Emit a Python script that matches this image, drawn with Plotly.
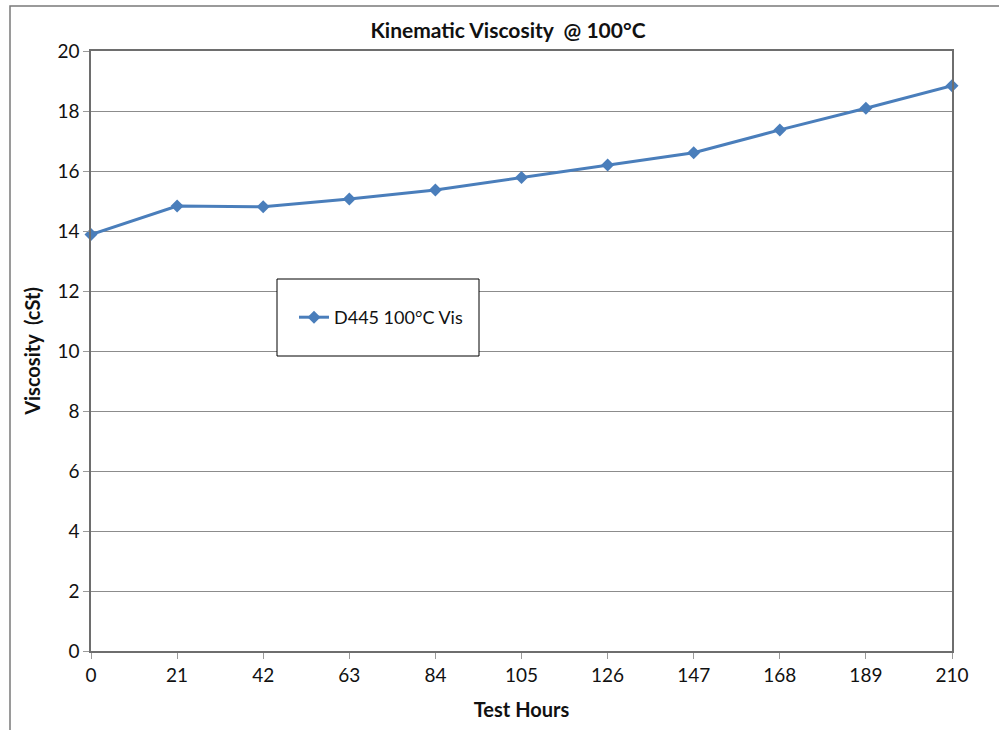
import plotly.graph_objects as go

# Test hours and measured kinematic viscosity at 100 °C
hours = [0, 21, 42, 63, 84, 105, 126, 147, 168, 189, 210]
viscosity = [13.88, 14.83, 14.81, 15.07, 15.37, 15.78, 16.2, 16.61, 17.37, 18.09, 18.84]
series_name = "D445 100°C Vis"

W, H = 999, 730
L, R, T, B = 91, 47, 51, 79
pw, ph = W - L - R, H - T - B


def px(x):
    return (x - L) / pw


def py(y):
    return (H - B - y) / ph


FONT = "Lato, Open Sans, sans-serif"
BLUE = "#4a7ebb"

fig = go.Figure()
fig.add_trace(go.Scatter(
    x=hours, y=viscosity, name=series_name, mode="lines+markers",
    line=dict(color=BLUE, width=3),
    marker=dict(symbol="diamond", size=10, color=BLUE),
    cliponaxis=False,
    showlegend=True,
))

axis_common = dict(
    showline=True, mirror=True, linecolor="#6e6e6e", linewidth=1.5,
    ticks="outside", ticklen=6, tickcolor="#9a9a9a", tickwidth=1,
    tickfont=dict(family=FONT, size=19, color="#111"),
    zeroline=False,
)

fig.update_xaxes(
    range=[0, 210], tickmode="array", tickvals=hours, ticktext=[str(h) for h in hours],
    showgrid=False,
    title=dict(text="<b>Test Hours</b>", font=dict(family=FONT, size=20, color="#111"), standoff=18),
    **axis_common,
)
fig.update_yaxes(
    range=[0, 20], dtick=2, showgrid=True, gridcolor="#8c8c8c", gridwidth=1,
    title=dict(text="<b>Viscosity  (cSt)</b>", font=dict(family=FONT, size=20, color="#111"), standoff=11),
    **axis_common,
)

fig.update_layout(
    width=W, height=H,
    margin=dict(l=L, r=R, t=T, b=B),
    paper_bgcolor="white", plot_bgcolor="white",
    title=dict(text="<b>Kinematic Viscosity  @ 100°C</b>", xref="container", x=508 / W,
               xanchor="center", y=1 - 31 / H, yanchor="middle",
               font=dict(family=FONT, size=21, color="#111")),
    legend=dict(x=px(294), y=py(299), xanchor="left", yanchor="top",
                bgcolor="rgba(0,0,0,0)", borderwidth=0,
                font=dict(family=FONT, size=18, color="#111")),
    shapes=[
        # outer chart frame
        dict(type="rect", xref="paper", yref="paper",
             x0=px(10), x1=px(1200), y0=py(900), y1=py(6),
             line=dict(color="#7a7a7a", width=1.5), fillcolor="rgba(0,0,0,0)", layer="below"),
        # legend frame
        dict(type="rect", xref="paper", yref="paper",
             x0=px(277), x1=px(479), y0=py(356), y1=py(279),
             line=dict(color="black", width=1), fillcolor="white", layer="above"),
    ],
)

fig.write_html("out.html")
